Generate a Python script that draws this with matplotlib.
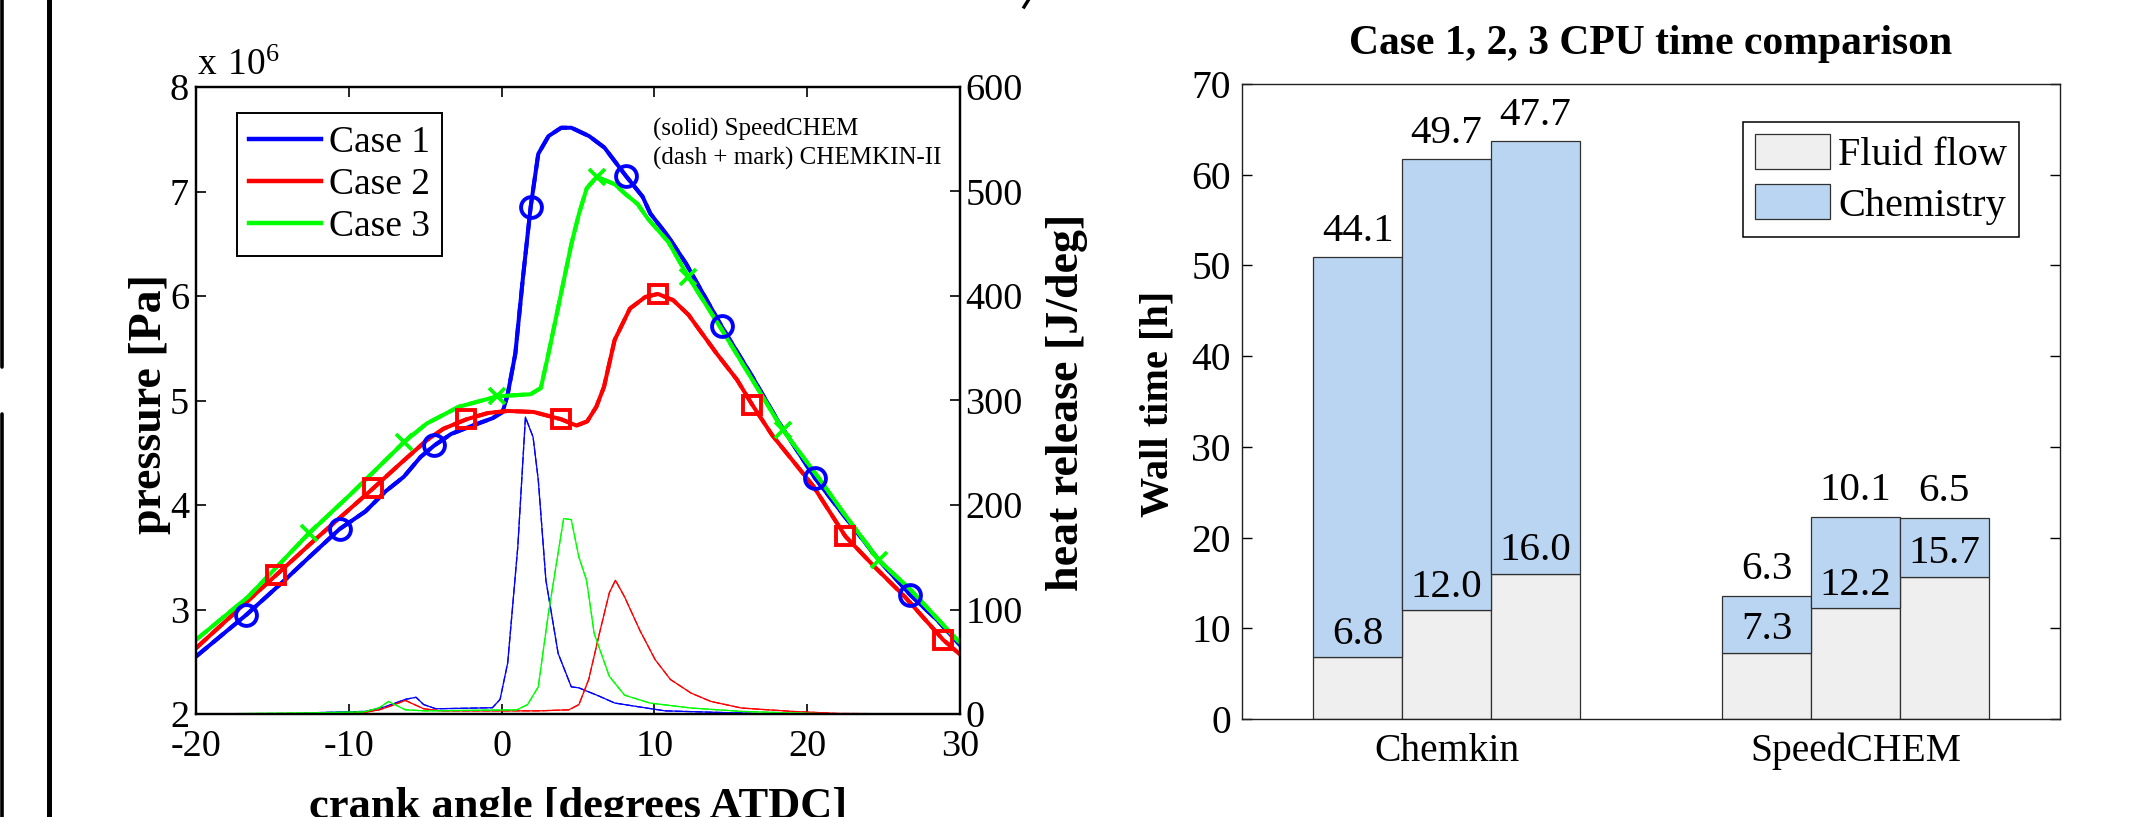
import matplotlib
matplotlib.use('Agg')
import matplotlib.pyplot as plt
from matplotlib.lines import Line2D
from matplotlib.patches import Patch

plt.rcParams['font.family'] = ['Liberation Serif', 'DejaVu Serif']
plt.rcParams['mathtext.fontset'] = 'custom'
plt.rcParams['mathtext.rm'] = 'Liberation Serif'
plt.rcParams['axes.unicode_minus'] = False

# ---------------- data: pressure (SpeedCHEM, solid) ----------------
ca_case1 = [-20, -16.7, -14.2, -12.6, -10.6, -8.9, -7.6, -6.4, -5.3, -4.4, -3.3, -1.9, -0.6, 0.07,
            0.4, 0.9, 1.4, 1.9, 2.4, 3.07, 3.9, 4.57, 5.73, 6.73, 8.13, 9.23, 9.73, 10.9, 12.07,
            14.4, 16.4, 18.1, 20.5, 22.4, 24.7, 26.75, 28.5, 30]
p_case1 = [2.55, 2.95, 3.28, 3.50, 3.77, 3.94, 4.13, 4.27, 4.46, 4.57, 4.68, 4.76, 4.83, 4.89,
           5.06, 5.45, 6.18, 6.85, 7.36, 7.53, 7.61, 7.61, 7.53, 7.42, 7.15, 6.95, 6.79, 6.57, 6.31,
           5.71, 5.23, 4.80, 4.26, 3.90, 3.47, 3.14, 2.90, 2.66]

ca_case2 = [-20, -14.75, -12.2, -8.4, -6.6, -4.9, -3.8, -2.3, -0.9, 0.4, 2.1, 3.9, 4.9, 5.6, 6.2,
            6.7, 7.4, 8.4, 9.4, 10.23, 11.23, 12.23, 14.07, 15.4, 16.4, 17.7, 20.4, 22.5, 24.4,
            26.4, 28.9, 30]
p_case2 = [2.63, 3.33, 3.67, 4.16, 4.40, 4.62, 4.73, 4.82, 4.88, 4.90, 4.89, 4.82, 4.76, 4.80, 4.94,
           5.13, 5.58, 5.88, 5.99, 6.02, 5.96, 5.82, 5.45, 5.20, 4.96, 4.67, 4.18, 3.70, 3.41,
           3.12, 2.71, 2.57]

ca_case3 = [-20, -16.6, -12.6, -9.9, -6.4, -4.9, -2.8, -0.27, 1.9, 2.57, 3.07, 3.9, 4.57, 5.07,
            5.57, 6.23, 7.4, 8.07, 8.9, 9.57, 10.9, 12.23, 14.4, 16.4, 18.4, 20.7, 22.4, 24.7,
            26.7, 30]
p_case3 = [2.71, 3.12, 3.73, 4.10, 4.60, 4.78, 4.94, 5.04, 5.06, 5.12, 5.45, 6.03, 6.50, 6.79,
           7.03, 7.14, 7.07, 6.98, 6.88, 6.74, 6.52, 6.18, 5.68, 5.20, 4.72, 4.27, 3.92, 3.47,
           3.20, 2.68]

# ---------------- data: CHEMKIN-II markers ----------------
ck_ca1 = [-16.7, -10.6, -4.4, 1.9, 8.13, 14.4, 20.5, 26.75]
ck_p1 = [2.95, 3.77, 4.57, 6.85, 7.15, 5.71, 4.26, 3.14]
ck_ca2 = [-14.75, -8.4, -2.3, 3.9, 10.23, 16.4, 22.5, 28.9]
ck_p2 = [3.33, 4.16, 4.82, 4.82, 6.02, 4.96, 3.70, 2.71]
ck_ca3 = [-12.6, -6.4, -0.27, 6.23, 12.23, 18.4, 24.7]
ck_p3 = [3.73, 4.60, 5.04, 7.14, 6.18, 4.72, 3.47]

# ---------------- data: heat release ----------------
hr_ca1 = [-20, -13, -12.9, -8.9, -7.6, -6.3, -5.6, -5.1, -4.3, -0.6, -0.1, 0.4, 1.06, 1.56, 2.06,
          2.4, 2.9, 3.7, 4.56, 5.06, 6.4, 7.4, 9.05, 10.7, 14.0, 15.7, 17.4, 30]
hr_1 = [0, 0, 1, 2.5, 7, 14, 16, 9, 5, 6, 14, 49, 160, 284, 265,
        224, 128, 58, 26, 25, 17, 10.5, 6.7, 3, 1.6, 1, 0, 0]
hr_ca2 = [-20, -13, -9, -8, -7, -6.3, -5.1, -4, 2.4, 4.4, 5.06, 5.7, 6.4, 7.05, 7.45, 8.05,
          9.05, 10.05, 11.05, 12.4, 13.7, 15.7, 19, 22, 30]
hr_2 = [0, 0.5, 1.5, 4, 9, 13, 5, 3, 3, 4, 9, 33, 77, 116, 128, 112,
        80, 52, 33, 20, 12, 5.7, 2.5, 0.5, 0]
hr_ca3 = [-20, -13, -9, -8, -7.4, -6.3, -5, 1.0, 1.7, 2.4, 3.06, 4.06, 4.56, 5.06, 5.56, 6.06,
          7.05, 8.05, 9.7, 12.4, 15.7, 19, 22, 30]
hr_3 = [0, 1, 2, 6, 12, 4, 3, 4, 9, 26, 96, 187, 186, 150, 128, 77,
        36, 18, 10.5, 5.7, 2.5, 1, 0, 0]

case_labels = ['Case 1', 'Case 2', 'Case 3']
case_colors = ['#0000ff', '#ff0000', '#00ff00']

# ---------------- data: CPU time ----------------
groups = ['Chemkin', 'SpeedCHEM']
fluid_chemkin = [6.8, 12.0, 16.0]
chem_chemkin = [44.1, 49.7, 47.7]
fluid_speedchem = [7.3, 12.2, 15.7]
chem_speedchem = [6.3, 10.1, 6.5]

W, H, DPI = 2146, 817, 100
fig = plt.figure(figsize=(W / DPI, H / DPI), dpi=DPI)


def fx(px):
    return px / W


def fy(py):
    return 1 - py / H


# ================= left chart =================
ax = fig.add_axes([fx(196), fy(714), (960 - 196) / W, (714 - 87) / H])
ax2 = ax.twinx()

pres = [(ca_case1, p_case1), (ca_case2, p_case2), (ca_case3, p_case3)]
marks = [(ck_ca1, ck_p1, 'o'), (ck_ca2, ck_p2, 's'), (ck_ca3, ck_p3, 'x')]
hrs = [(hr_ca1, hr_1), (hr_ca2, hr_2), (hr_ca3, hr_3)]

handles = []
for (cx, py), col, lab in zip(pres, case_colors, case_labels):
    ax.plot(cx, py, '--', color=col, lw=2.9)
    ln, = ax.plot(cx, py, '-', color=col, lw=2.9, label=lab)
    handles.append(ln)
for (mx, my, mk), col in zip(marks, case_colors):
    if mk == 'x':
        ax.plot(mx, my, linestyle='none', marker=mk, ms=11, mew=2.7, color=col)
    else:
        ax.plot(mx, my, linestyle='none', marker=mk, ms=15 if mk == 'o' else 13,
                mew=2.8, mfc='none', mec=col)

for (hx, hy), col in zip(hrs, case_colors):
    ax2.plot(hx, hy, '-', color=col, lw=0.9)
    ax2.plot(hx, hy, '--', color=col, lw=0.9, dashes=(6, 2))

ax.set_xlim(-20, 30)
ax.set_ylim(2, 8)
ax.set_xticks(range(-20, 31, 10))
ax.set_xticklabels(['%d' % v for v in range(-20, 31, 10)])
ax.set_yticks(range(2, 9))
ax2.set_ylim(0, 600)
ax2.set_yticks(range(0, 601, 100))
ax.tick_params(axis='both', direction='in', length=7, width=1.2, top=True, labelsize=27.5)
ax.tick_params(axis='x', pad=11)
ax.tick_params(axis='y', pad=5)
ax2.tick_params(axis='y', direction='in', length=7, width=1.2, labelsize=27.5, pad=4)
for a in (ax, ax2):
    for s in a.spines.values():
        s.set_linewidth(1.6)
        s.set_color('black')

leg = ax2.legend(handles=handles, loc='upper left', bbox_to_anchor=(fx(237), fy(113)),
                 bbox_transform=fig.transFigure, borderaxespad=0, fontsize=27,
                 handlelength=1.9, handletextpad=0.22, labelspacing=0.2, borderpad=0.33,
                 fancybox=False, framealpha=1, edgecolor='black')
leg.get_frame().set_linewidth(1.4)
for l in leg.get_lines():
    l.set_linewidth(3.2)

fig.text(fx(653), fy(136), '(solid) SpeedCHEM', fontsize=18, va='baseline', ha='left')
fig.text(fx(653), fy(165), '(dash + mark) CHEMKIN-II', fontsize=18, va='baseline', ha='left')
fig.text(fx(197), fy(75), r'$\mathregular{x\ 10^{6}}$', fontsize=27, va='baseline', ha='left')

fig.text(fx(150), fy(404), 'pressure [Pa]', fontsize=33, fontweight='bold', rotation=90,
         ha='center', va='center')
fig.text(fx(1067), fy(402), 'heat release [J/deg]', fontsize=33, fontweight='bold', rotation=90,
         ha='center', va='center')
fig.text(fx(578), fy(818), 'crank angle [degrees ATDC]', fontsize=32, fontweight='bold',
         ha='center', va='baseline')

# ================= right chart =================
bx = fig.add_axes([fx(1242), fy(719), (2060 - 1242) / W, (719 - 84) / H])
bw = 0.217
offs = [-bw, 0, bw]
fluid_sets = [fluid_chemkin, fluid_speedchem]
chem_sets = [chem_chemkin, chem_speedchem]
for gi, (fl, ch) in enumerate(zip(fluid_sets, chem_sets)):
    xs = [gi + 1 + o for o in offs]
    bx.bar(xs, fl, bw, color='#efefef', edgecolor='#303030', lw=0.9, zorder=2)
    bx.bar(xs, ch, bw, bottom=fl, color='#bad5f1', edgecolor='#303030', lw=0.9, zorder=2)
    for x, f, c in zip(xs, fl, ch):
        bx.text(x, f + 1.5, '%.1f' % f, ha='center', va='baseline', fontsize=29.5, zorder=3)
        bx.text(x, f + c + 1.8, '%.1f' % c, ha='center', va='baseline', fontsize=29.5, zorder=3)

bx.set_xlim(0.5, 2.5)
bx.set_ylim(0, 70)
bx.set_xticks([1, 2])
bx.set_xticklabels(groups)
bx.set_yticks(range(0, 71, 10))
bx.tick_params(axis='y', direction='in', length=7, width=1, right=True, labelsize=28.5, pad=8)
bx.tick_params(axis='x', length=0, labelsize=28.5, pad=10)
for s in bx.spines.values():
    s.set_linewidth(1.0)
    s.set_color('#202020')

bleg = bx.legend(handles=[Patch(facecolor='#efefef', edgecolor='#303030', lw=0.9, label='Fluid flow'),
                          Patch(facecolor='#bad5f1', edgecolor='#303030', lw=0.9, label='Chemistry')],
                 loc='upper right', bbox_to_anchor=(fx(2019), fy(122)), bbox_transform=fig.transFigure,
                 borderaxespad=0, fontsize=29, handlelength=1.85, handleheight=0.95,
                 handletextpad=0.2, labelspacing=0.25, borderpad=0.3, fancybox=False,
                 framealpha=1, edgecolor='black')
bleg.get_frame().set_linewidth(1.1)

fig.text(fx(1651), fy(54), 'Case 1, 2, 3 CPU time comparison', fontsize=30, fontweight='bold',
         ha='center', va='baseline')
fig.text(fx(1158), fy(404), 'Wall time [h]', fontsize=29, fontweight='bold', rotation=90,
         ha='center', va='center')

# ================= page decorations =================
fig.add_artist(Line2D([fx(49), fx(49)], [0, 1], color='black', lw=3.6))
fig.add_artist(Line2D([fx(1.5), fx(1.5)], [fy(0), fy(367)], color='black', lw=2.6,
                      solid_capstyle='round'))
fig.add_artist(Line2D([fx(1.5), fx(1.5)], [fy(414), fy(817)], color='black', lw=2.6,
                      solid_capstyle='round'))
fig.add_artist(Line2D([fx(1024), fx(1029)], [fy(7), fy(-1)], color='black', lw=2.4))

fig.savefig('out.png', dpi=DPI)
